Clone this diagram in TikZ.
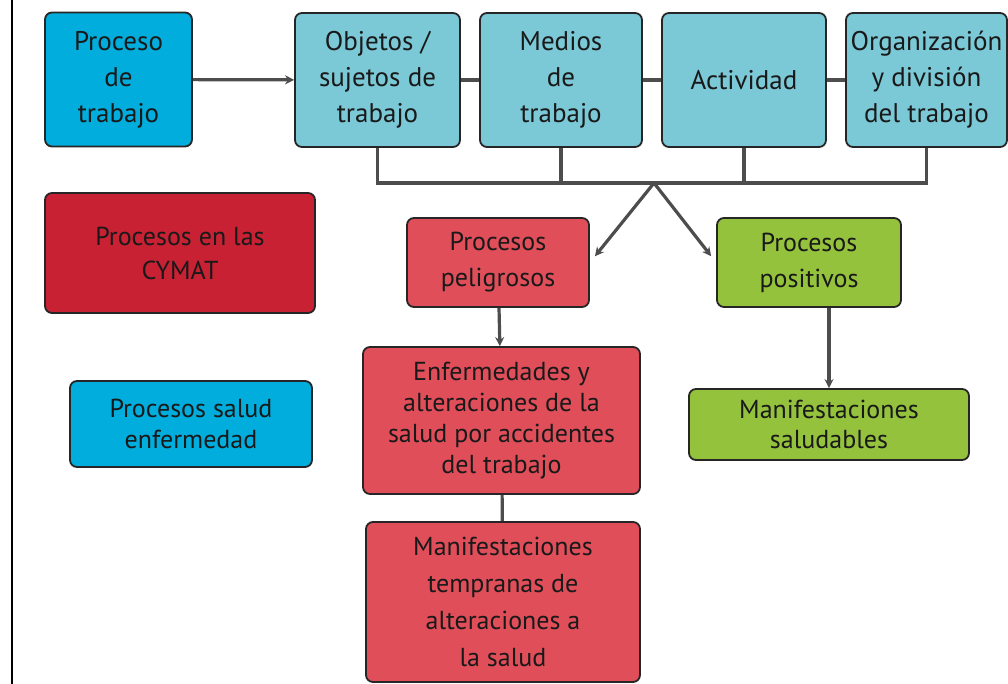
\documentclass[tikz,border=0pt]{standalone}
\usepackage{fontspec}
\setmainfont{PT Sans}
\usetikzlibrary{arrows.meta}
\definecolor{procblue}{HTML}{00ADDC}
\definecolor{topblue}{HTML}{7BC8D6}
\definecolor{cymatred}{HTML}{C92134}
\definecolor{pelired}{HTML}{E04E5A}
\definecolor{lime}{HTML}{95C23D}
\definecolor{wire}{HTML}{4D4D4D}
\begin{document}
\begin{tikzpicture}[x=1pt,y=-1pt,
    box/.style={draw=black!85,line width=1.8pt,rounded corners=7pt,align=center,inner sep=0pt,text=black!90},
    topbox/.style={box,fill=topblue,minimum height=134pt,font=\fontsize{27}{36}\selectfont},
    midbox/.style={box,font=\fontsize{26}{31}\selectfont},
    wireline/.style={draw=wire,line width=3.2pt},
    tip/.style={wireline,-{Stealth[length=9pt,width=9pt]}}]
      \useasboundingbox (0,0) rectangle (1008,684);
      \draw[line width=2pt] (12,0) -- (12,684);
      \draw
        (118.5,79.5) node[topbox,fill=procblue,minimum width=147pt] (proc){Proceso\\de\\trabajo}
        (377.5,80) node[topbox,minimum width=165pt] (obj){Objetos /\\sujetos de\\trabajo}
        (561,80) node[topbox,minimum width=162pt] (med){Medios\\de\\trabajo}
        (744,80) node[topbox,minimum width=164pt] (act){Actividad}
        (926.5,80) node[topbox,minimum width=161pt] (org){Organización\\y división\\del trabajo}
        (180,253) node[midbox,fill=cymatred,minimum width=270pt,minimum height=120pt,font=\fontsize{26}{34}\selectfont] (cymat){Procesos en las\\CYMAT}
        (191,424) node[midbox,fill=procblue,minimum width=242pt,minimum height=86pt] (salud){Procesos salud\\enfermedad}
        (498,262.5) node[midbox,fill=pelired,minimum width=182pt,minimum height=89pt,font=\fontsize{26}{36}\selectfont] (pelig){Procesos\\peligrosos}
        (809,262.5) node[midbox,fill=lime,minimum width=184pt,minimum height=89pt,font=\fontsize{26}{36}\selectfont] (posit){Procesos\\positivos}
        (501.5,420.5) node[midbox,fill=pelired,minimum width=277pt,minimum height=147pt] (enf){Enfermedades y\\alteraciones de la\\salud por accidentes\\del trabajo}
        (503,602) node[midbox,fill=pelired,minimum width=274pt,minimum height=160pt,font=\fontsize{26}{37}\selectfont] (temp){Manifestaciones\\tempranas de\\alteraciones a\\la salud}
        (829,424.5) node[midbox,fill=lime,minimum width=280pt,minimum height=71pt,font=\fontsize{26}{30}\selectfont] (sal){Manifestaciones\\saludables};
      \coordinate (split) at (654,183);
      \begin{scope}[wireline]
        \draw[tip] (proc) to (obj);
        \draw (obj) to (med);
        \draw (med) to (act);
        \draw (act) to (org);
        \draw (obj.south) |- (org.south |- split) -- (org.south);
        \draw (med.south) to (med.south |- split);
        \draw (act.south) to (act.south |- split);
        \draw[tip,shorten >=8pt] (split) to (pelig.east);
        \draw[tip,shorten >=8pt] (split) to (posit.west);
        \draw[tip] (pelig) to (enf);
        \draw (enf) to (temp);
        \draw[tip] (posit.south -| sal.north) to (sal.north);
      \end{scope}
    \end{tikzpicture}
\end{document}
